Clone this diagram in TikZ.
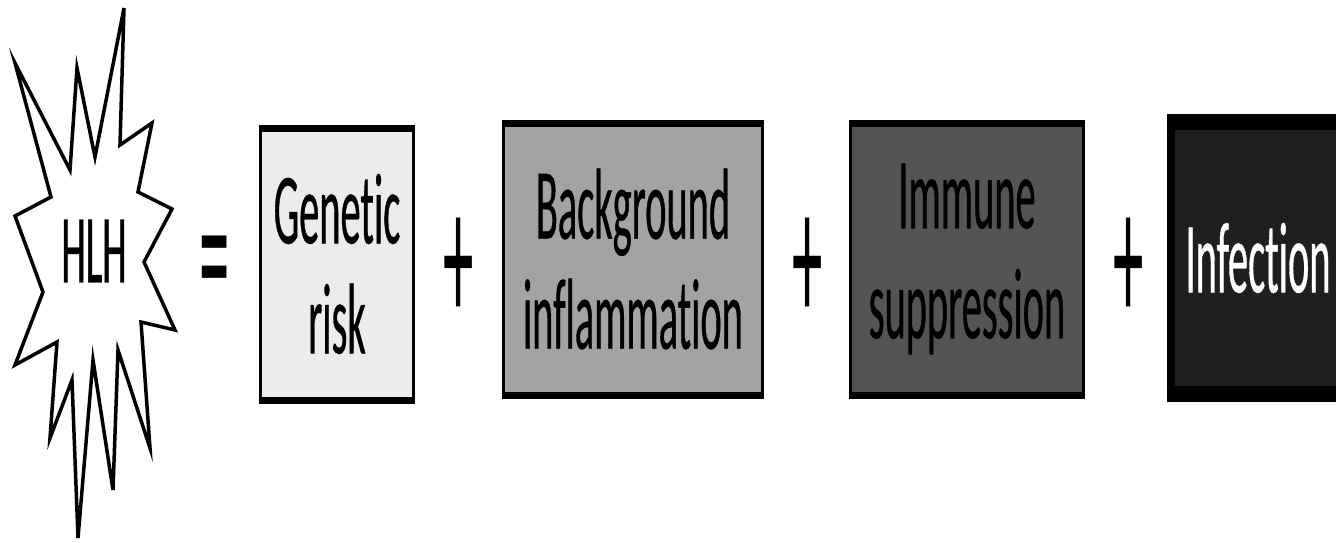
\documentclass[tikz,border=0pt]{standalone}
\usepackage{fontspec}
\newfontfamily\condfont[FakeStretch=0.4,FakeBold=0.35,Ligatures=NoCommon]{Carlito}
\newfontfamily\signfont[FakeStretch=0.32]{Carlito}
\begin{document}
\begin{tikzpicture}[x=1pt,y=-1pt,
  term/.style={draw=black,line width=3,inner sep=0pt,minimum height=273,
    align=center,font=\condfont\fontsize{101}{110}\selectfont},
  sign/.style={inner sep=0pt,font=\signfont\fontsize{190}{190}\selectfont},
  burst/.style={draw=black,line width=3.5,line join=miter,fill=white}]
\clip (0,0) rectangle (1336,542);
\fill[white] (0,0) rectangle (1336,542);

% explosion outline
\draw[burst] (124,8) -- (120,145) -- (152,123) -- (138,192) -- (172,209)
  -- (144,262) -- (175,330) -- (141,322) -- (150,448) -- (118,350)
  -- (113,490) -- (93,360) -- (78,538) -- (72,380) -- (50,438)
  -- (57,342) -- (15,365) -- (43,292) -- (15,216) -- (51,197)
  -- (15,63) -- (70,170) -- (77,68) -- (95,157) -- cycle;
\node[inner sep=0pt,font=\condfont\fontsize{98}{98}\selectfont] (hlh) at (94,251) {HLH};

\node[sign] (eq) at (215,277) {=};

\node[term,fill=gray!15,minimum width=153] (gen) at (337,264) {Genetic\\risk};
\node[sign] (p1) at (459,270) {+};
\node[term,fill=gray!72,minimum width=259] (bg) at (633,259) {Background\\inflammation};
\node[sign] (p2) at (808,270) {+};
\node[term,fill=black!67,minimum width=233] (imm) at (967,259) {Immune\\suppression};
\node[sign] (p3) at (1129,270) {+};
\node[term,fill=black!88,line width=8,minimum width=174,minimum height=272,text=white] (inf) at (1258,258) {Infection};

% heavier top and bottom edges
\foreach \b in {gen,bg,imm}{
  \draw[line width=7] ([yshift=-2]\b.north west) -- ([yshift=-2]\b.north east);
  \draw[line width=7] ([yshift=2]\b.south west) -- ([yshift=2]\b.south east);
}
\draw[line width=16] ([yshift=-4]inf.north west) -- ([yshift=-4]inf.north east);
\draw[line width=16] ([yshift=4]inf.south west) -- ([yshift=4]inf.south east);
\end{tikzpicture}
\end{document}
